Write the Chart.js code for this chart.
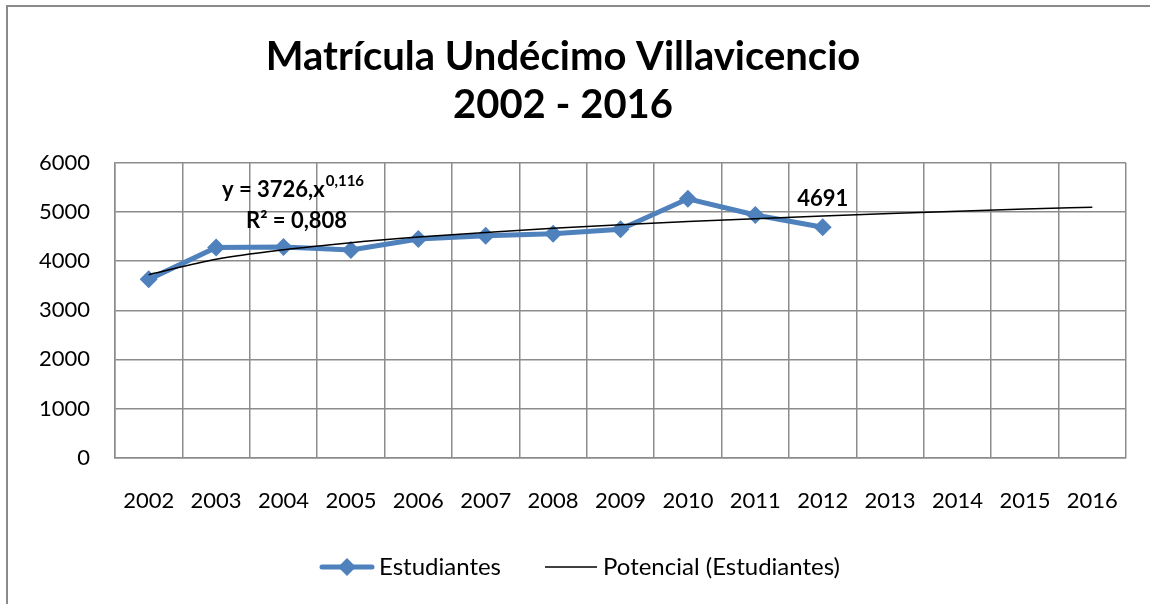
<!DOCTYPE html>
<html lang="es">
<head>
    <meta charset="UTF-8">
    <title>Matrícula Undécimo Villavicencio</title>
    <script src="https://cdn.jsdelivr.net/npm/chart.js"></script>
    <style>
        html, body { margin: 0; padding: 0; background: #fff; }
        .wrap { width: 1150px; height: 604px; }
    </style>
</head>
<body>
    <div class="wrap"><canvas id="matriculaChart" width="1150" height="604"></canvas></div>

    <script>
        // Data
        const years = ['2002', '2003', '2004', '2005', '2006', '2007', '2008', '2009',
                       '2010', '2011', '2012', '2013', '2014', '2015', '2016'];
        const estudiantes = [3630, 4280, 4290, 4230, 4450, 4520, 4560, 4650, 5270, 4940, 4691];
        // power trendline y = 3726 x^0.116, values per year
        const potencial = [3726, 4038, 4232, 4376, 4491, 4587, 4669, 4742, 4808, 4867,
                           4921, 4971, 5017, 5061, 5101];
        const titleLines = ['Matrícula Undécimo Villavicencio', '2002 - 2016'];

        const BLUE = '#4F81BD';
        const GRID = '#8c8c8c';
        const FONT = 'Lato, "Open Sans", sans-serif';

        // small canvases used as legend symbols (blank strip on the left = extra gap between items)
        const SYM_MARGIN = 39;
        function makeSymbol(withDiamond, color, lineW) {
            const c = document.createElement('canvas');
            c.width = SYM_MARGIN + 56; c.height = 20;
            const g = c.getContext('2d');
            const m = SYM_MARGIN;
            g.strokeStyle = color;
            g.lineWidth = lineW;
            g.lineCap = withDiamond ? 'round' : 'butt';
            g.beginPath();
            g.moveTo(m + (withDiamond ? 3 : 2), 10);
            g.lineTo(m + (withDiamond ? 53 : 54), 10);
            g.stroke();
            if (withDiamond) {
                g.fillStyle = color;
                g.beginPath();
                g.moveTo(m + 28, 1); g.lineTo(m + 37, 10); g.lineTo(m + 28, 19); g.lineTo(m + 19, 10);
                g.closePath();
                g.fill();
            }
            return c;
        }
        const symEst = makeSymbol(true, BLUE, 5);
        const symPot = makeSymbol(false, '#000', 1.5);

        const frame = {
            id: 'frame',
            beforeDraw(chart) {
                const ctx = chart.ctx;
                ctx.save();
                ctx.fillStyle = '#fff';
                ctx.fillRect(0, 0, chart.width, chart.height);
                ctx.strokeStyle = '#8a8a8a';
                ctx.lineWidth = 2;
                ctx.strokeRect(7, 6, 1170, 700);
                ctx.restore();
            }
        };

        // the legend sits a little right of centre in the original
        const legendShift = {
            id: 'legendShift',
            afterLayout(chart) {
                chart.legend.left += 1;
                chart.legend.right += 1;
            }
        };

        const annotations = {
            id: 'annotations',
            afterDatasetsDraw(chart) {
                const { ctx, scales: { x, y } } = chart;
                ctx.save();
                ctx.fillStyle = '#000';

                // data label for last value
                const i = estudiantes.length - 1;
                ctx.font = 'bold 22px ' + FONT;
                ctx.textAlign = 'center';
                ctx.textBaseline = 'alphabetic';
                ctx.fillText(String(estudiantes[i]), x.getPixelForValue(i), y.getPixelForValue(estudiantes[i]) - 21);

                // trendline equation
                ctx.textAlign = 'left';
                const x0 = chart.chartArea.left + 107;
                const main = 'y = 3726,x';
                ctx.fillText(main, x0, 197);
                const w = ctx.measureText(main).width;
                ctx.font = 'bold 15px ' + FONT;
                ctx.fillText('0,116', x0 + w + 1, 186);
                ctx.font = 'bold 22px ' + FONT;
                ctx.fillText('R² = 0,808', x0 + 24, 228);
                ctx.restore();
            }
        };

        const ctx = document.getElementById('matriculaChart').getContext('2d');
        const matriculaChart = new Chart(ctx, {
            type: 'line',
            data: {
                labels: years,
                datasets: [{
                    label: 'Estudiantes',
                    data: estudiantes,
                    borderColor: BLUE,
                    backgroundColor: BLUE,
                    borderWidth: 5,
                    pointStyle: 'rectRot',
                    pointRadius: 9,
                    pointHoverRadius: 9,
                    pointBackgroundColor: BLUE,
                    pointBorderWidth: 0,
                    tension: 0,
                    fill: false,
                    order: 2
                }, {
                    label: 'Potencial (Estudiantes)',
                    data: potencial,
                    borderColor: '#000',
                    backgroundColor: '#000',
                    borderWidth: 1.5,
                    pointRadius: 0,
                    cubicInterpolationMode: 'monotone',
                    fill: false,
                    order: 1
                }]
            },
            options: {
                responsive: false,
                animation: false,
                layout: { padding: { left: 0, right: 24, top: 18, bottom: 15 } },
                plugins: {
                    tooltip: { enabled: false },
                    title: {
                        display: true,
                        text: titleLines,
                        color: '#000',
                        font: { family: FONT, size: 40, weight: 'bold', lineHeight: 1.2 },
                        padding: { top: 15, bottom: 34 }
                    },
                    legend: {
                        position: 'bottom',
                        labels: {
                            color: '#000',
                            font: { family: FONT, size: 24 },
                            usePointStyle: true,
                            pointStyleWidth: SYM_MARGIN + 56 - 16,
                            padding: 11,
                            sort: (a, b) => a.datasetIndex - b.datasetIndex,
                            generateLabels(chart) {
                                return chart.data.datasets.map((ds, i) => ({
                                    text: ds.label,
                                    datasetIndex: i,
                                    pointStyle: i === 0 ? symEst : symPot,
                                    fontColor: '#000',
                                    lineWidth: 0,
                                    hidden: false
                                }));
                            }
                        }
                    }
                },
                scales: {
                    x: {
                        offset: true,
                        grid: { offset: true, color: GRID, lineWidth: 1.5, drawTicks: false },
                        border: { color: GRID, width: 1.5 },
                        ticks: { color: '#000', font: { family: FONT, size: 22 }, padding: 30, maxRotation: 0, autoSkip: false }
                    },
                    y: {
                        min: 0,
                        max: 6000,
                        grid: { color: GRID, lineWidth: 1.5, drawTicks: false },
                        border: { color: GRID, width: 1.5 },
                        ticks: {
                            color: '#000',
                            font: { family: FONT, size: 22 },
                            stepSize: 1000,
                            padding: 25,
                            callback: value => String(value)
                        },
                        afterFit(scale) { scale.width = 115; }
                    }
                }
            },
            plugins: [frame, legendShift, annotations]
        });
    </script>
</body>
</html>
